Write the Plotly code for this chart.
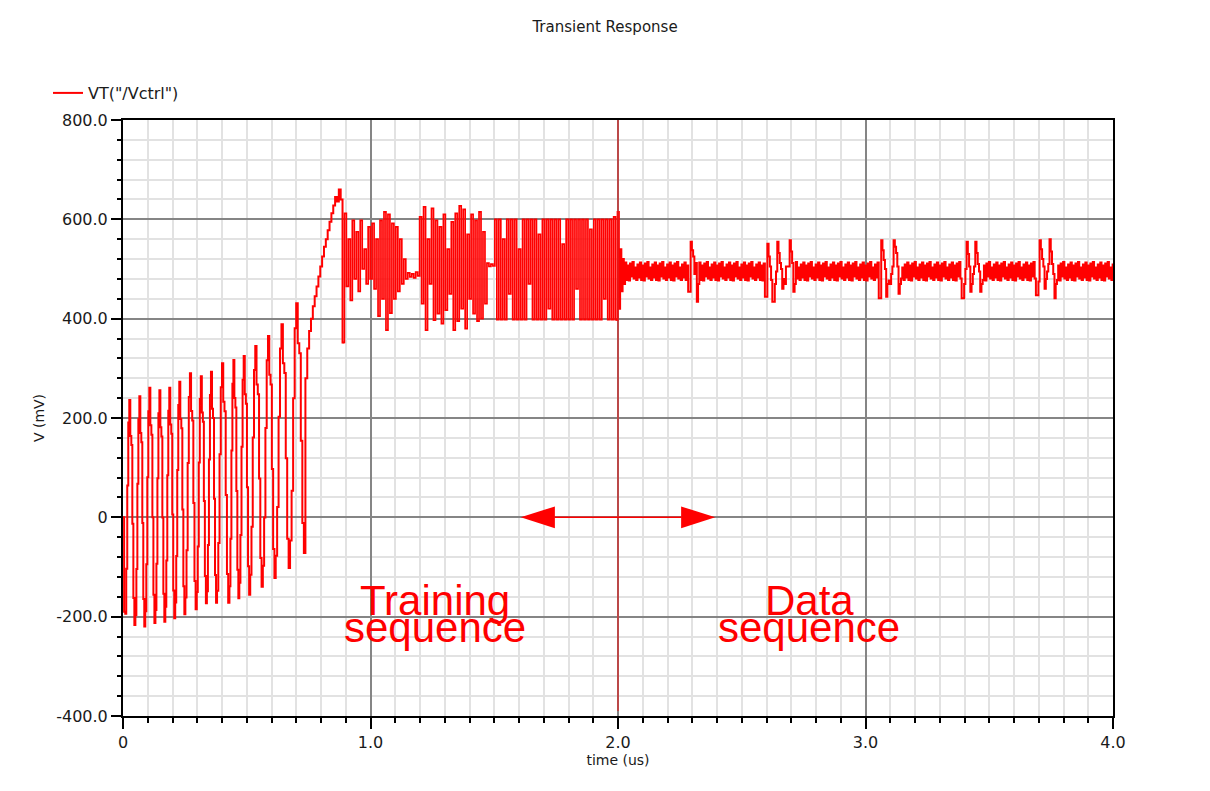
import numpy as np
import plotly.graph_objects as go

# ---------------- data (time in us, voltage in mV) ----------------
# power-up samples
start_times = [0.0, 0.0045]
start_values = [0.0, -190.0]

# start-up burst: one entry per oscillation cycle
burst_edges = [0.009, 0.050, 0.090, 0.131, 0.171, 0.211, 0.252, 0.298, 0.339,
               0.380, 0.430, 0.470, 0.514, 0.565, 0.617, 0.675, 0.737]
burst_peaks = [236, 244, 261, 256, 261, 273, 290, 284, 293, 310, 317, 325, 345, 365, 389, 431]
burst_troughs = [-217, -220, -213, -210, -203, -195, -185, -173, -172, -172, -163, -156,
                 -140, -122, -102, -72]
# held levels inside one burst cycle (0 = trough, 1 = peak)
burst_shape = [0.05, 0.25, 0.62, 0.9, 1.0, 0.84, 0.8, 0.45, 0.12, 0.0]

# lock-in staircase ramp
ramp_t0 = 0.737
ramp_dt = 0.0075
ramp_values = [280, 340, 375, 400, 425, 445, 465, 485, 505, 525, 545, 560, 578, 595,
               612, 628, 645, 636, 660, 640, 352]

# training sequence: alternating high / low held samples
train_t0 = 0.8945
train_dt = 0.008
train_hi = [612, 560, 598, 575, 598, 540, 585, 592, 560, 598, 615, 610, 592,
            585, 560, 520,
            492, 490, 494,
            605, 625, 560, 622, 598, 585, 610, 540, 595, 612, 627, 620, 570, 610, 598, 615, 575,
            512, 510,
            600, 600, 560, 600, 600, 600, 540, 600, 600, 600, 600, 570, 600, 600, 600, 600,
            600, 550, 600, 600, 600, 600, 600, 600, 580, 600, 600, 600, 600, 600, 605]
train_lo = [465, 437, 480, 455, 500, 470, 480, 460, 405, 440, 377, 411, 440,
            455, 470, 480,
            484, 482, 486,
            430, 377, 470, 397, 410, 390, 417, 450, 377, 395, 420, 380, 440, 410, 395, 400, 430,
            505, 506,
            398, 398, 398, 450, 398, 398, 398, 398, 470, 398, 398, 398, 398, 420, 398, 398,
            398, 398, 398, 398, 460, 398, 398, 398, 398, 398, 398, 440, 398, 398, 398]

# settling right after the switch to data
settle_t0 = 1.9985
settle_dt = 0.005
settle_values = [615, 420, 540, 455, 520, 470]

# data sequence: ripple band with five disturbances
data_t0 = 2.0285
data_dt = 0.005
data_end = 4.0
data_base = 495
band_offsets = [18, -17, 12, -18, 16, -10, 19, -14, 8, -17, 14, -12]
dist_starts = [2.284, 2.594, 3.052, 3.388, 3.689]
dist_values = [
    [454, 454, 555, 538, 525, 490, 512, 434, 470],
    [444, 444, 551, 525, 505, 478, 434, 434, 470, 495, 555, 532, 512, 500, 460, 480, 470,
     505, 505, 505, 558, 535, 512, 454, 470],
    [441, 441, 558, 538, 518, 500, 444, 470, 477, 470, 490, 505, 558, 545, 532, 505, 450, 470],
    [441, 441, 470, 500, 555, 530, 505, 454, 470, 490, 505, 555, 532, 510, 495, 454, 470],
    [447, 447, 475, 558, 540, 520, 505, 460, 480, 495, 510, 560, 535, 510, 490, 441, 470],
]

x_tick_vals = [0, 1, 2, 3, 4]
x_tick_text = ["0", "1.0", "2.0", "3.0", "4.0"]
y_tick_vals = [-400, -200, 0, 200, 400, 600, 800]
y_tick_text = ["-400.0", "-200.0", "0", "200.0", "400.0", "600.0", "800.0"]

switch_time = 2.0
arrow_half_span = 0.393
arrow_head_len = 0.138
arrow_head_half = 22

# ---------------- assemble the held-sample waveform (three pieces) ----------------
assert len(train_hi) == len(train_lo)
# piece 1: power-up, burst, ramp
t1 = list(start_times)
v1 = list(start_values)
for i in range(len(burst_peaks)):
    ta, tb = burst_edges[i], burst_edges[i + 1]
    n = len(burst_shape)
    for j, f in enumerate(burst_shape):
        t1.append(ta + (tb - ta) * j / n)
        v1.append(burst_troughs[i] + f * (burst_peaks[i] - burst_troughs[i]))
for k, v in enumerate(ramp_values):
    t1.append(ramp_t0 + k * ramp_dt)
    v1.append(v)
# piece 2: training sequence (joined to the end of piece 1)
t2 = [t1[-1]]
v2 = [v1[-1]]
for i, (hi, lo) in enumerate(zip(train_hi, train_lo)):
    t2.append(train_t0 + 2 * i * train_dt)
    v2.append(hi)
    t2.append(train_t0 + (2 * i + 1) * train_dt)
    v2.append(lo)
t1.append(train_t0)
v1.append(v1[-1])
# piece 3: settling and data sequence (joined to the end of piece 2)
t3 = [t2[-1]]
v3 = [v2[-1]]
for k, v in enumerate(settle_values):
    t3.append(settle_t0 + k * settle_dt)
    v3.append(v)
t2.append(settle_t0)
v2.append(v2[-1])
n_data = int(np.floor((data_end - data_t0) / data_dt + 1e-9)) + 1
data_t = [data_t0 + k * data_dt for k in range(n_data)]
data_v = [data_base + band_offsets[k % len(band_offsets)] for k in range(n_data)]
for s, seq in zip(dist_starts, dist_values):
    k0 = int(round((s - data_t0) / data_dt))
    for j, v in enumerate(seq):
        if 0 <= k0 + j < n_data:
            data_v[k0 + j] = v
t3 += data_t
v3 += data_v
t3.append(data_end)
v3.append(data_v[-1])

red = "#ff0000"
fig = go.Figure()
fig.add_trace(go.Scatter(x=t1, y=v1, mode="lines", line=dict(color=red, width=2, shape="hv"),
                         name='VT("/Vctrl")', legendgroup="vt", showlegend=True, hoverinfo="skip"))
fig.add_trace(go.Scatter(x=t2, y=v2, mode="lines", line=dict(color=red, width=1.7, shape="hv"),
                         name='VT("/Vctrl")', legendgroup="vt", showlegend=False, hoverinfo="skip"))
fig.add_trace(go.Scatter(x=t3, y=v3, mode="lines", line=dict(color=red, width=2, shape="hv"),
                         name='VT("/Vctrl")', legendgroup="vt", showlegend=False, hoverinfo="skip"))

grid_major = "#858585"
grid_minor = "#e2e2e2"
axis_font = dict(family="DejaVu Sans", size=16, color="#1a1a1a")
title_font = dict(family="DejaVu Sans", size=14, color="#1a1a1a")

fig.update_layout(
    width=1210, height=791,
    margin=dict(l=123, r=97, t=120, b=75, autoexpand=False),
    paper_bgcolor="white", plot_bgcolor="white",
    title=dict(text="Transient Response", x=0.5, xref="container", xanchor="center",
               y=1 - 27 / 791, yref="container", yanchor="middle",
               font=dict(family="DejaVu Sans", size=15, color="#1a1a1a")),
    showlegend=True,
    legend=dict(x=(48 - 123) / 990, y=(716 - 93) / 596, xanchor="left", yanchor="middle",
                bgcolor="rgba(0,0,0,0)", font=dict(family="DejaVu Sans", size=16, color="#1a1a1a"),
                itemwidth=30),
    xaxis=dict(range=[0, 4], tickmode="array", tickvals=x_tick_vals, ticktext=x_tick_text,
               showgrid=True, gridcolor=grid_major, gridwidth=1.5, zeroline=False,
               ticks="outside", ticklen=11, tickwidth=1.5, tickcolor="black",
               showline=True, linecolor="black", linewidth=2, mirror=True,
               minor=dict(tickmode="linear", tick0=0, dtick=0.1, ticks="outside", ticklen=5,
                          tickwidth=1.5, tickcolor="black", showgrid=True,
                          gridcolor=grid_minor, gridwidth=1.5),
               tickfont=axis_font, automargin=False,
               title=dict(text="time (us)", font=title_font, standoff=3)),
    yaxis=dict(range=[-400, 800], tickmode="array", tickvals=y_tick_vals, ticktext=y_tick_text,
               showgrid=True, gridcolor=grid_major, gridwidth=1.5, zeroline=False,
               ticks="outside", ticklen=10, tickwidth=1.5, tickcolor="black",
               showline=True, linecolor="black", linewidth=2, mirror=True,
               minor=dict(tickmode="linear", tick0=0, dtick=40, ticks="outside", ticklen=4,
                          tickwidth=1.5, tickcolor="black", showgrid=True,
                          gridcolor=grid_minor, gridwidth=1.5),
               tickfont=axis_font, automargin=False,
               title=dict(text="V (mV)", font=title_font, standoff=8)),
)

# switch marker and double arrow
fig.add_shape(type="line", x0=switch_time, x1=switch_time, y0=-390, y1=800,
              xref="x", yref="y", line=dict(color="#e02020", width=1.2), layer="above")
fig.add_shape(type="line", x0=switch_time - arrow_half_span + arrow_head_len, y0=0,
              x1=switch_time + arrow_half_span - arrow_head_len, y1=0,
              xref="x", yref="y", line=dict(color=red, width=1.5), layer="above")
lt = switch_time - arrow_half_span
rt = switch_time + arrow_half_span
fig.add_shape(type="path", xref="x", yref="y", layer="above", fillcolor=red,
              line=dict(color=red, width=0),
              path=f"M {lt},0 L {lt + arrow_head_len},{arrow_head_half} L {lt + arrow_head_len},{-arrow_head_half} Z")
fig.add_shape(type="path", xref="x", yref="y", layer="above", fillcolor=red,
              line=dict(color=red, width=0),
              path=f"M {rt},0 L {rt - arrow_head_len},{arrow_head_half} L {rt - arrow_head_len},{-arrow_head_half} Z")

label_font = dict(family="Liberation Sans, Arial", size=42, color=red)
for txt, xv, yv in [("Training", 1.2586, -167.5), ("sequence", 1.2586, -221.9),
                    ("Data", 2.7717, -167.5), ("sequence", 2.7717, -221.9)]:
    fig.add_annotation(x=xv, y=yv, xref="x", yref="y", text=txt, showarrow=False,
                       xanchor="center", yanchor="middle", font=label_font)

fig.write_html("out.html")
